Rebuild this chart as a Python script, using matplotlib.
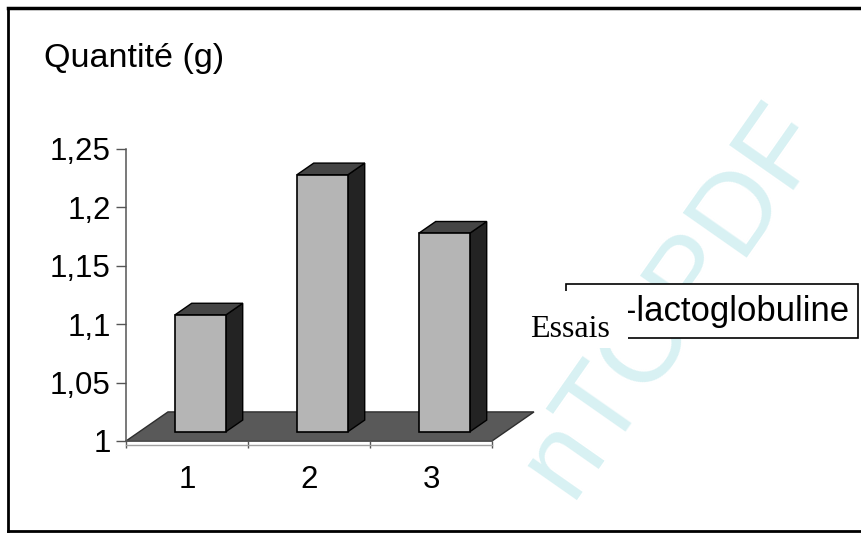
import matplotlib
matplotlib.use("Agg")
import matplotlib.pyplot as plt
from matplotlib.patches import Polygon, Rectangle
from matplotlib.lines import Line2D

# ---- data -------------------------------------------------------------
trials = [1, 2, 3]
quantities = [1.10, 1.22, 1.17]
y_ticks = [1.0, 1.05, 1.1, 1.15, 1.2, 1.25]
y_tick_labels = ["1", "1,05", "1,1", "1,15", "1,2", "1,25"]
x_labels = ["1", "2", "3"]
y_title = "Quantité (g)"
x_title = "Essais"
series_name = "β-lactoglobuline"

# ---- figure -----------------------------------------------------------
W, H, DPI = 861, 534, 100
fig = plt.figure(figsize=(W / DPI, H / DPI), dpi=DPI)
fig.patch.set_facecolor("white")
SANS = "Liberation Sans"
SERIF = "Liberation Serif"


def fx(px):
    return px / W


def fy(py):
    return 1 - py / H


ax = fig.add_axes([fx(126), fy(441), (492 - 126) / W, (441 - 149) / H])
ax.set_xlim(0.5, 3.5)
ax.set_ylim(1.0, 1.25)
ax.patch.set_visible(False)

# oblique depth offsets (x in category units, y in value units)
DEPTH_X, DEPTH_Y = 0.344, 0.0249


def proj(x, y, d):
    return (x + d * DEPTH_X, y + d * DEPTH_Y)


base = y_ticks[0]
x0, x1 = ax.get_xlim()

# floor slab
floor = Polygon([proj(x0, base, 0), proj(x1, base, 0), proj(x1, base, 1), proj(x0, base, 1)],
                closed=True, fc="#595959", ec="#2e2e2e", lw=1.0, clip_on=False, zorder=1)
ax.add_patch(floor)

# 3D columns
half = 0.209
d0, d1 = 0.32, 0.72
for x, v in zip(trials, quantities):
    xl, xr = x - half, x + half
    top = Polygon([proj(xl, v, d0), proj(xr, v, d0), proj(xr, v, d1), proj(xl, v, d1)],
                  closed=True, fc="#454545", ec="black", lw=1.0, clip_on=False, zorder=2)
    side = Polygon([proj(xr, base, d0), proj(xr, v, d0), proj(xr, v, d1), proj(xr, base, d1)],
                   closed=True, fc="#232323", ec="black", lw=1.0, clip_on=False, zorder=2)
    ax.add_patch(side)
    ax.add_patch(top)

ax.bar([x + d0 * DEPTH_X for x in trials], [v - base for v in quantities],
       bottom=base + d0 * DEPTH_Y, width=2 * half, color="#b5b5b5",
       edgecolor="black", linewidth=1.2, clip_on=False, zorder=3)

# axes styling
for s in ("top", "right"):
    ax.spines[s].set_visible(False)
ax.spines["left"].set_color("#555555")
ax.spines["bottom"].set_color("#555555")
ax.spines["left"].set_linewidth(1.1)
ax.spines["bottom"].set_linewidth(1.1)

ax.set_yticks(y_ticks, labels=y_tick_labels)
ax.tick_params(axis="y", length=7, width=1, color="#555555", pad=4,
               labelsize=22.5, labelcolor="black")
ax.set_xticks([0.5, 1.5, 2.5, 3.5], labels=["", "", "", ""])
ax.set_xticks(trials, labels=x_labels, minor=True)
ax.tick_params(axis="x", which="major", length=5, width=1, color="#555555")
ax.tick_params(axis="x", which="minor", length=0, pad=17, labelsize=22.5)
for lab in ax.get_yticklabels() + ax.get_xticklabels(minor=True):
    lab.set_fontfamily(SANS)

# light lower edge of the floor slab
fig.add_artist(Line2D([fx(126), fx(492)], [fy(445), fy(445)], color="#a0a0a0", lw=1.0))

# ---- titles -----------------------------------------------------------
fig.text(fx(44), fy(58), y_title, fontsize=24.5, family=SANS, ha="left", va="center")

# watermark
fig.text(fx(570), fy(500), "nTOPDF", fontsize=82, family=SANS, color="#d8f1f3",
         rotation=55, rotation_mode="anchor", ha="left", va="baseline", zorder=1)

# legend box
fig.add_artist(Rectangle((fx(566), fy(338)), (858 - 566) / W, (338 - 284) / H,
                         transform=fig.transFigure, fc="white", ec="black", lw=1.2, zorder=2))
fig.text(fx(606), fy(312), series_name, fontsize=25, family=SANS, ha="left", va="center", zorder=3)

# category axis title with its white background
fig.add_artist(Rectangle((fx(524), fy(348)), (628 - 524) / W, (348 - 291) / H,
                         transform=fig.transFigure, fc="white", ec="none", zorder=4))
fig.text(fx(530), fy(337), x_title, fontsize=23, family=SERIF, ha="left", va="baseline", zorder=5)

# outer frame
for xs, ys, lw in (([8, 861], [8, 8], 2.5), ([8, 8], [8, 531], 2.0), ([8, 861], [531, 531], 2.0)):
    fig.add_artist(Line2D([fx(v) for v in xs], [fy(v) for v in ys], color="black", lw=lw))

fig.savefig("out.png", dpi=DPI)
